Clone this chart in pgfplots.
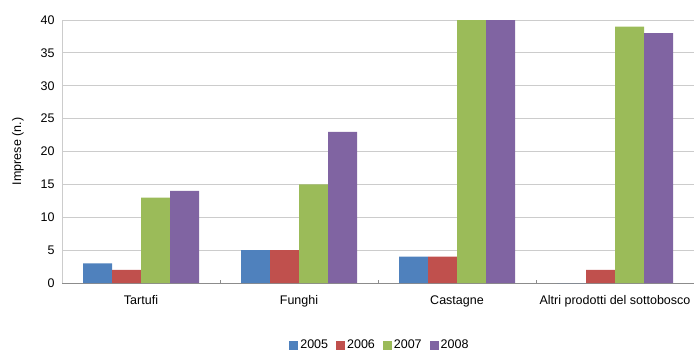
\documentclass[border=0pt]{standalone}
\usepackage{pgfplots}
\pgfplotsset{compat=1.18}
\usepackage{fontspec}
\setmainfont{Liberation Sans}
\definecolor{c05}{HTML}{4F81BD}
\definecolor{c06}{HTML}{C0504D}
\definecolor{c07}{HTML}{9BBB59}
\definecolor{c08}{HTML}{8064A2}
\definecolor{gridc}{HTML}{CCCCCC}
\definecolor{axc}{HTML}{8C8C8C}
\begin{document}
\begin{tikzpicture}
\begin{axis}[
  at={(62bp,-20bp)}, anchor=north west,
  scale only axis, width=632bp, height=263bp,
  ybar=0pt, bar width=29bp,
  xmin=-0.5, xmax=3.5, ymin=0, ymax=40,
  xtick={0,1,2,3},
  xticklabels={Tartufi,Funghi,Castagne,Altri prodotti del sottobosco},
  minor xtick={0.5,1.5,2.5},
  ytick={0,5,...,40},
  axis x line*=bottom, axis y line*=left,
  axis line style={axc, line width=0.8pt},
  x axis line style={-}, y axis line style={-, gridc},
  ymajorgrids, major grid style={gridc, line width=0.8pt},
  major tick length=0pt, minor tick length=3bp,
  xtick align=inside,
  minor tick style={axc},
  tick label style={font=\fontsize{12.5bp}{14bp}\selectfont, text=black},
  /pgf/number format/assume math mode=true,
  ylabel={Imprese (n.)},
  every axis y label/.style={at={(-44bp,131.5bp)}, rotate=90, anchor=center,
    font=\fontsize{12.5bp}{14bp}\selectfont},
  xticklabel style={yshift=-9bp},
  yticklabel style={xshift=-4bp},
  legend style={at={(0.503,-0.236)}, anchor=center, draw=none,
    font=\fontsize{12.5bp}{14bp}\selectfont, legend columns=4,
    /tikz/every even column/.append style={column sep=6bp}},
  legend image code/.code={\fill[#1] (0bp,-4.5bp) rectangle (9bp,4.5bp);},
  clip=true,
]
\addplot[fill=c05, draw=none] coordinates {(0,3) (1,5) (2,4) (3,0)};
\addplot[fill=c06, draw=none] coordinates {(0,2) (1,5) (2,4) (3,2)};
\addplot[fill=c07, draw=none] coordinates {(0,13) (1,15) (2,40) (3,39)};
\addplot[fill=c08, draw=none] coordinates {(0,14) (1,23) (2,40) (3,38)};
\legend{2005,2006,2007,2008}
\end{axis}
\pgfresetboundingbox
\path (0,0) rectangle (696bp,-350bp);
\end{tikzpicture}
\end{document}
